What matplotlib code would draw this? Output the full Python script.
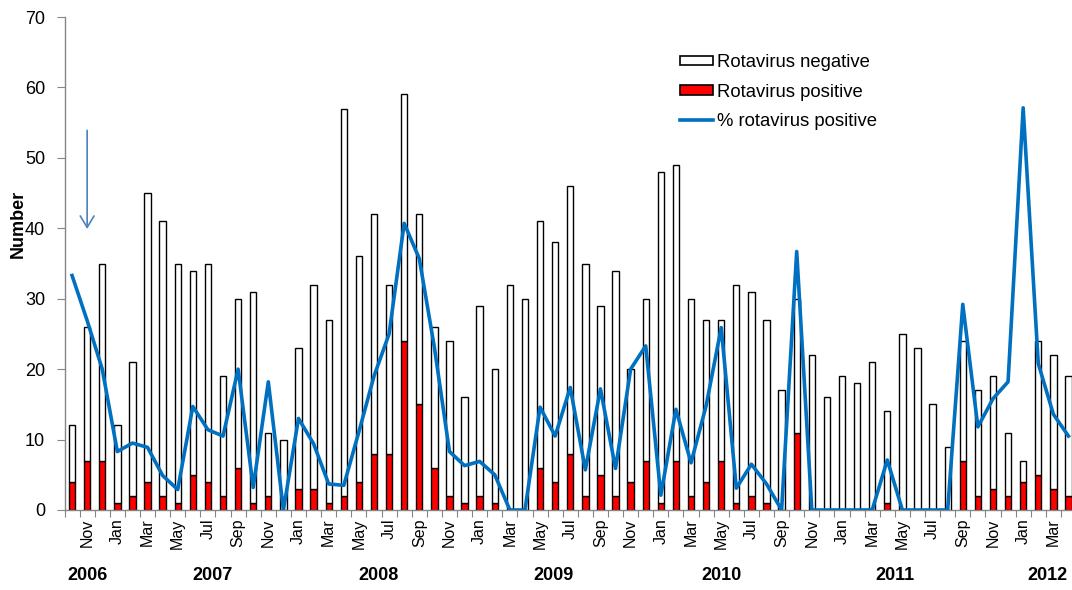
import numpy as np
import pandas as pd
import matplotlib.pyplot as plt
import matplotlib.transforms as mtransforms
from matplotlib.patches import Patch
from matplotlib.lines import Line2D

plt.rcParams['font.family'] = ['Liberation Sans', 'DejaVu Sans']

# monthly specimens, Oct 2006 - Apr 2012
months = pd.date_range('2006-10-01', periods=67, freq='MS').strftime('%b').tolist()

total = [12, 26, 35, 12, 21, 45, 41, 35, 34, 35, 19, 30, 31, 11, 10, 23, 32, 27, 57, 36,
         42, 32, 59, 42, 26, 24, 16, 29, 20, 32, 30, 41, 38, 46, 35, 29, 34, 20, 30, 48,
         49, 30, 27, 27, 32, 31, 27, 17, 30, 22, 16, 19, 18, 21, 14, 25, 23, 15, 9, 24,
         17, 19, 11, 7, 24, 22, 19]
positive = [4, 7, 7, 1, 2, 4, 2, 1, 5, 4, 2, 6, 1, 2, 0, 3, 3, 1, 2, 4,
            8, 8, 24, 15, 6, 2, 1, 2, 1, 0, 0, 6, 4, 8, 2, 5, 2, 4, 7, 1,
            7, 2, 4, 7, 1, 2, 1, 0, 11, 0, 0, 0, 0, 0, 1, 0, 0, 0, 0, 7,
            2, 3, 2, 4, 5, 3, 2]
pct_positive = [33.3, 26.9, 20.0, 8.3, 9.5, 8.9, 4.9, 2.9, 14.7, 11.4, 10.5, 20.0, 3.2, 18.2, 0.0,
                13.0, 9.4, 3.7, 3.5, 11.1, 19.0, 25.0, 40.7, 35.7, 23.1, 8.3, 6.3, 6.9, 5.0, 0.0,
                0.0, 14.6, 10.5, 17.4, 5.7, 17.2, 5.9, 20.0, 23.3, 2.1, 14.3, 6.7, 14.8, 25.9, 3.1,
                6.5, 3.7, 0.0, 36.7, 0.0, 0.0, 0.0, 0.0, 0.0, 7.1, 0.0, 0.0, 0.0, 0.0, 29.2,
                11.8, 15.8, 18.2, 57.1, 20.8, 13.6, 10.5]
years = ['2006', '2007', '2008', '2009', '2010', '2011', '2012']

negative = [t - p for t, p in zip(total, positive)]
x = np.arange(len(months))

fig = plt.figure(figsize=(10.72, 5.9), dpi=100)
ax = fig.add_axes([64.5 / 1072, 80 / 590, 1011.5 / 1072, 493 / 590])

ax.bar(x, positive, width=0.42, color='#FF0000', edgecolor='black', linewidth=1.0, zorder=2)
ax.bar(x, negative, width=0.42, bottom=positive, color='white', edgecolor='black',
       linewidth=1.0, zorder=2)
ax.plot(x, pct_positive, color='#0070C0', linewidth=2.6, zorder=3)

ax.set_xlim(-0.5, len(months) - 0.5)
ax.set_ylim(0, 70)
ax.set_yticks(range(0, 71, 10))

# tick marks on every month boundary, labels on every other month
ax.set_xticks(np.arange(-0.5, len(months), 1))
ax.set_xticklabels([])
ax.set_xticks(x[1::2], minor=True)
ax.set_xticklabels(months[1::2], minor=True, rotation=90, fontsize=11.5)
ax.tick_params(axis='x', which='major', length=5, color='#868686')
ax.tick_params(axis='x', which='minor', length=0, pad=6)
ax.tick_params(axis='y', length=6, color='#868686', labelsize=13, pad=8)

for side in ['top', 'right']:
    ax.spines[side].set_visible(False)
for side in ['left', 'bottom']:
    ax.spines[side].set_color('#868686')
    ax.spines[side].set_linewidth(1.0)

fig.text(18 / 1072, 1 - 224 / 590, 'Number', rotation=90, ha='center', va='center',
         fontsize=13, fontweight='bold')

# year labels under the month labels
trans = mtransforms.blended_transform_factory(ax.transData, fig.transFigure)
year_pos = [1.0, 9.3, 20.3, 31.9, 43.0, 54.5, 64.6]
for yr, xp in zip(years, year_pos):
    ax.text(xp, (590 - 575) / 590, yr, transform=trans, ha='center', va='center',
            fontsize=13, fontweight='bold')

ax.annotate('', xy=(1, 39.5), xytext=(1, 54.3),
            arrowprops=dict(arrowstyle='->,head_length=0.55,head_width=0.33',
                            color='#4F81BD', lw=1.2, mutation_scale=15))

handles = [Patch(facecolor='white', edgecolor='black', linewidth=1.2),
           Patch(facecolor='#FF0000', edgecolor='black', linewidth=1.2),
           Line2D([], [], color='#0070C0', linewidth=2.6)]
labels = ['Rotavirus negative', 'Rotavirus positive', '% rotavirus positive']
fig.legend(handles, labels, loc='upper left', bbox_to_anchor=(680 / 1072, (590 - 54) / 590),
           frameon=False, fontsize=13.3, handlelength=1.8, handleheight=0.4,
           handletextpad=0.2, labelspacing=0.68, borderpad=0, borderaxespad=0)

fig.savefig('out.png', dpi=100)
